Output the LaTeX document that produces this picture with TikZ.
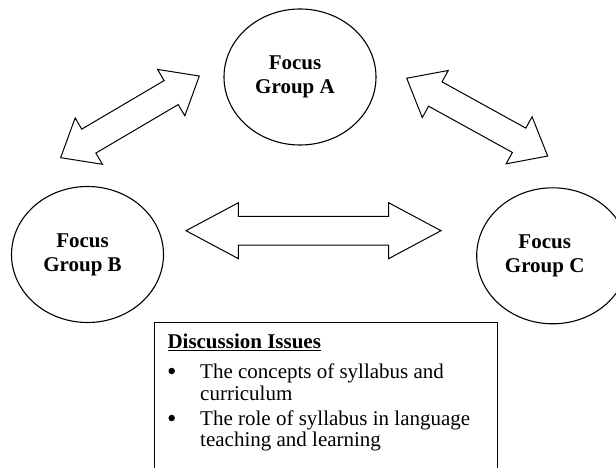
\documentclass[tikz,border=0pt]{standalone}
\usepackage{fontspec}
\setmainfont{Liberation Serif}
\usetikzlibrary{shapes.geometric,shapes.arrows}
\begin{document}
\begin{tikzpicture}[x=1pt,y=-1pt,
  group/.style={draw,ellipse,line width=1.1pt,minimum width=152pt,minimum height=136pt,inner sep=0pt},
  grouplabel/.style={align=center,inner sep=0pt,font=\fontsize{21}{24}\selectfont\bfseries},
  blockarrow/.style={draw,double arrow,line width=1pt,inner xsep=0pt,inner ysep=13.4pt,
    double arrow head extend=13pt,minimum width=52.8pt,double arrow tip angle=79},
  boxtext/.style={anchor=base west,inner sep=0pt,font=\fontsize{21}{24}\selectfont},
  bulletdot/.style={circle,fill,inner sep=0pt,minimum size=6.5pt},
]
\useasboundingbox (0,0) rectangle (616,468);
\clip (0,0) rectangle (616,468);
% focus groups
\node[group] (A) at (300,77) {};
\node[group] (B) at (87.5,254.5) {};
\node[group] (C) at (552.7,255.8) {};
\node[grouplabel] (Alabel) at ([xshift=-5pt]A.center) {Focus\\Group A};
\node[grouplabel] (Blabel) at ([xshift=-5pt]B.center) {Focus\\Group B};
\node[grouplabel] (Clabel) at ([xshift=-8pt]C.center) {Focus\\Group C};
% block arrows
\node[blockarrow,minimum height=160.9pt,rotate=30.5] (AB) at (130,116.85) {};
\node[blockarrow,minimum height=161pt,rotate=-28.9] (AC) at (477.2,117.15) {};
\node[blockarrow,minimum height=255pt,inner ysep=13.8pt,double arrow head extend=13.7pt,
  minimum width=55pt,double arrow tip angle=56.2] (BC) at (313.5,230.7) {};
% discussion box
\node[draw,line width=1pt,anchor=north west,minimum width=342.7pt,minimum height=200pt,inner sep=0pt] (issues) at (154,321.7) {};
\node[boxtext] (head) at (167.3,348.3) {\underline{\textbf{Discussion Issues}}};
\node[bulletdot] (b1) at (171.7,371) {};
\node[boxtext] (l1) at (200,378.3) {The concepts of syllabus and};
\node[boxtext] (l2) at (200,400) {curriculum};
\node[bulletdot] (b2) at (171.7,418) {};
\node[boxtext] (l3) at (200,425) {The role of syllabus in language};
\node[boxtext] (l4) at (200,446.5) {teaching and learning};
\end{tikzpicture}
\end{document}
